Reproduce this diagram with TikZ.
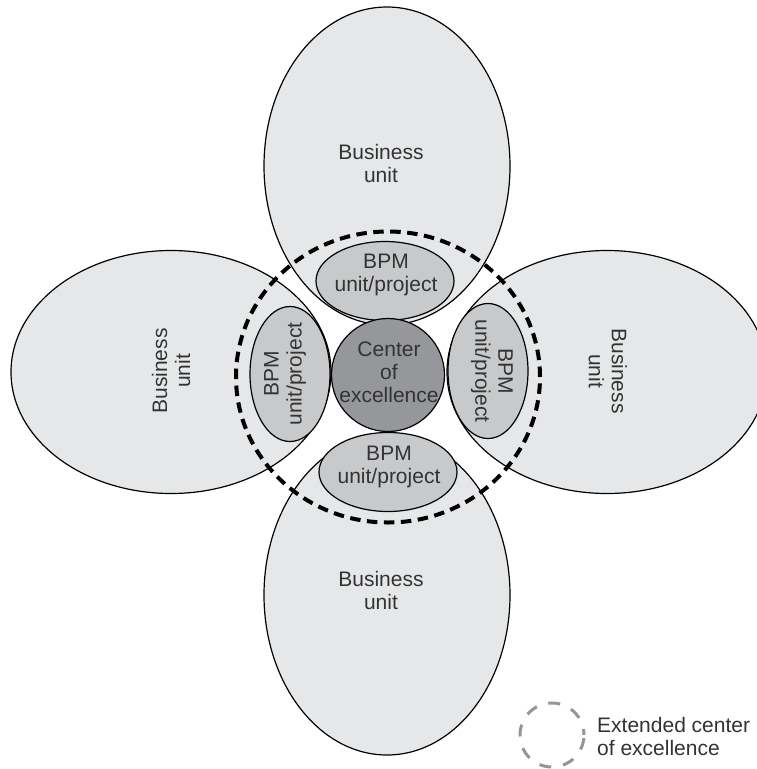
\documentclass[tikz,border=0pt]{standalone}
\usepackage{fontspec}
\setmainfont{Liberation Sans}
\usetikzlibrary{shapes.geometric}
\definecolor{bufill}{HTML}{E6E7E8}
\definecolor{bpmfill}{HTML}{C8C9CB}
\definecolor{coefill}{HTML}{96979A}
\definecolor{txt}{HTML}{333333}
\definecolor{legendgray}{HTML}{959595}
\tikzset{
  bigell/.style={ellipse, draw=black, line width=1.2pt, fill=bufill, inner sep=0pt},
  bpmell/.style={ellipse, draw=black, line width=1.2pt, fill=bpmfill, inner sep=0pt},
  coecirc/.style={circle, draw=black, line width=1.2pt, fill=coefill, inner sep=0pt},
  lbl/.style={text=txt, font=\fontsize{21}{23}\selectfont, align=center, inner sep=0pt},
  extcirc/.style={ellipse, draw=black, line width=4pt, dash pattern=on 10.5pt off 6.5pt, inner sep=0pt},
  legcirc/.style={circle, draw=legendgray, line width=3pt, dash pattern=on 12pt off 12pt, dash phase=6pt, inner sep=0pt}
}
\begin{document}
\begin{tikzpicture}[x=1pt,y=-1pt]
\useasboundingbox (0,0) rectangle (757,769);
\clip (0,0) rectangle (757,769);
% business units
\node[bigell, minimum width=246pt, minimum height=318pt] (butop) at (387,166) {};
\node[bigell, minimum width=246pt, minimum height=320pt] (bubot) at (387,595) {};
\node[bigell, minimum width=320pt, minimum height=243pt] (buleft) at (171,372) {};
\node[bigell, minimum width=320pt, minimum height=243pt] (buright) at (607,372) {};
\node[lbl] (butopt) at (381,163) {Business\\unit};
\node[lbl] (bubott) at (381,590) {Business\\unit};
\node[lbl, rotate=90] (buleftt) at (171,371) {Business\\unit};
\node[lbl, rotate=-90] (burightt) at (608,371) {Business\\unit};
% BPM units
\node[bpmell, minimum width=138pt, minimum height=79pt] (bpmtop) at (385,281) {};
\node[bpmell, minimum width=138pt, minimum height=79pt] (bpmbot) at (388,472) {};
\node[bpmell, minimum width=80pt, minimum height=135pt] (bpmleft) at (290,374) {};
\node[bpmell, minimum width=80pt, minimum height=135pt] (bpmright) at (488,371) {};
\node[lbl] (bpmtopt) at (386,275) {BPM\\unit/project};
\node[lbl] (bpmbott) at (389,467) {BPM\\unit/project};
\node[lbl, rotate=90] (bpmleftt) at (285,374) {BPM\\unit/project};
\node[lbl, rotate=-90] (bpmrightt) at (492,371) {BPM\\unit/project};
% center of excellence
\node[coecirc, minimum size=113pt] (coe) at (388,375) {};
\node[lbl] (coet) at (389,372) {Center\\of\\excellence};
% extended center of excellence
\node[extcirc, minimum width=304pt, minimum height=291pt] (ext) at (388,377) {};
% legend
\node[legcirc, minimum size=64pt] (legc) at (552,735) {};
\node[lbl, align=left, anchor=west] (legt) at (597,736) {Extended center\\of excellence};
\end{tikzpicture}
\end{document}
